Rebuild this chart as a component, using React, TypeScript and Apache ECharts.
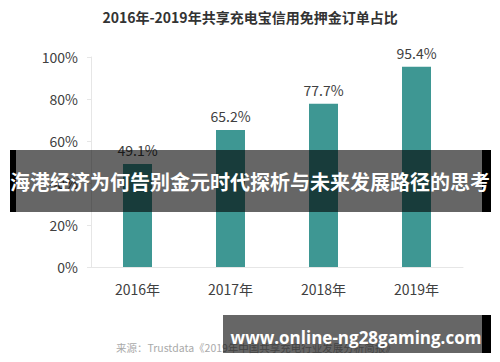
import React, { useEffect, useRef } from "react";
import * as echarts from "echarts";

const TITLE = "2016年-2019年共享充电宝信用免押金订单占比";
const categories = ["2016年", "2017年", "2018年", "2019年"];
const shares = [49.1, 65.2, 77.7, 95.4];
const yTicks = { min: 0, max: 100, interval: 20 };
const SOURCE = "来源：Trustdata《2019年中国共享充电行业发展分析简报》";
const BANNER = "海港经济为何告别金元时代探析与未来发展路径的思考";
const URL_TEXT = "www.online-ng28gaming.com";

const FONT = "'Noto Sans CJK SC', 'Noto Sans', sans-serif";

export default function App() {
  const ref = useRef<HTMLDivElement>(null);
  useEffect(() => {
    if (!ref.current) return;
    const chart = echarts.init(ref.current, null, { renderer: "svg" });
    chart.setOption({
      animation: false,
      backgroundColor: "#ffffff",
      textStyle: { fontFamily: FONT },
      title: {
        text: TITLE,
        left: "center",
        top: 5,
        textStyle: { fontSize: 14, fontWeight: "bold", color: "#333333", fontFamily: FONT },
      },
      grid: { left: 91, right: 37, top: 57, bottom: 95, containLabel: false },
      xAxis: {
        type: "category",
        data: categories,
        axisLine: { show: true, lineStyle: { color: "#e6e6e6", width: 1 } },
        axisTick: { show: false },
        axisLabel: { color: "#404040", fontSize: 14, margin: 15, fontFamily: FONT },
      },
      yAxis: {
        type: "value",
        min: yTicks.min,
        max: yTicks.max,
        interval: yTicks.interval,
        axisLine: { show: true, lineStyle: { color: "#e6e6e6", width: 1 } },
        axisTick: { show: true, length: 4, lineStyle: { color: "#e6e6e6" } },
        splitLine: { show: false },
        axisLabel: { formatter: "{value}%", color: "#404040", fontSize: 14, margin: 13, fontFamily: FONT },
      },
      series: [
        {
          type: "bar",
          data: shares,
          barWidth: 29,
          itemStyle: { color: "#3e9793" },
          label: {
            show: true,
            position: "top",
            distance: 7,
            formatter: (p: any) => `${p.value}%`,
            color: "#404040",
            fontSize: 14,
            fontFamily: FONT,
          },
        },
      ],
      graphic: [
        {
          type: "text",
          left: 116,
          top: 342,
          z: 1,
          style: { text: SOURCE, fill: "#aaaaaa", fontSize: 10.5, fontFamily: FONT },
        },
        { type: "rect", z: 100, shape: { x: 10, y: 150, width: 6, height: 62 }, style: { fill: "#000000" } },
        { type: "rect", z: 100, shape: { x: 16, y: 150, width: 466, height: 62 }, style: { fill: "rgba(0,0,0,0.6)" } },
        { type: "rect", z: 100, shape: { x: 482, y: 150, width: 9, height: 62 }, style: { fill: "#000000" } },
        {
          type: "text",
          z: 101,
          x: 250,
          y: 181,
          style: {
            text: BANNER,
            fill: "#ffffff",
            fontSize: 20,
            fontWeight: "bold",
            fontFamily: FONT,
            align: "center",
            verticalAlign: "middle",
          },
        },
        { type: "rect", z: 100, shape: { x: 223, y: 315, width: 259, height: 38 }, style: { fill: "rgba(0,0,0,0.6)" } },
        { type: "rect", z: 100, shape: { x: 482, y: 315, width: 9, height: 38 }, style: { fill: "#000000" } },
        {
          type: "text",
          z: 101,
          x: 356,
          y: 337,
          style: {
            text: URL_TEXT,
            fill: "#ffffff",
            fontSize: 17,
            fontWeight: "bold",
            fontFamily: "'Open Sans', 'Noto Sans', sans-serif",
            align: "center",
            verticalAlign: "middle",
          },
        },
      ],
    });
    return () => chart.dispose();
  }, []);
  return <div ref={ref} style={{ width: 500, height: 362, position: "absolute", left: 0, top: 0 }} />;
}
